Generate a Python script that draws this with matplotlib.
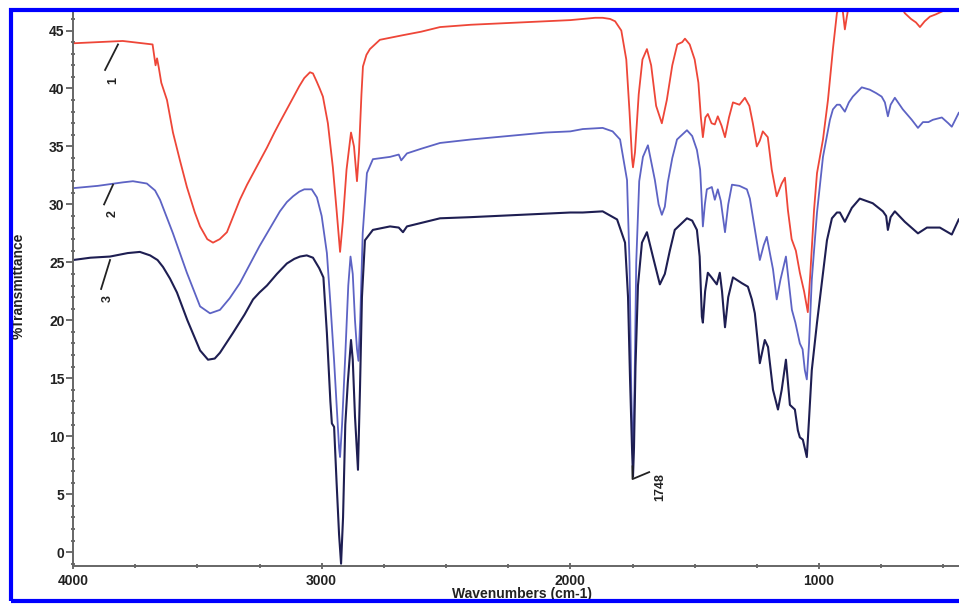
import matplotlib
matplotlib.use('Agg')
import matplotlib.pyplot as plt
from matplotlib.patches import Rectangle
from matplotlib.ticker import MultipleLocator

plt.rcParams['font.family'] = ['Liberation Sans', 'DejaVu Sans']

# spectrum 1 (red)
wn_1 = [4000, 3900, 3800, 3720, 3680, 3668, 3662, 3655, 3645, 3622, 3598, 3570, 3542,
        3510, 3489, 3460, 3437, 3410, 3381, 3355, 3329, 3300, 3275, 3250, 3220, 3190,
        3168, 3140, 3115, 3090, 3070, 3047, 3035, 3020, 3008, 2995, 2975, 2955, 2940,
        2926, 2915, 2900, 2882, 2870, 2858, 2850, 2840, 2834, 2820, 2806, 2766, 2720,
        2673, 2600, 2524, 2400, 2300, 2200, 2100, 2000, 1950, 1900, 1870, 1840, 1820,
        1795, 1775, 1762, 1752, 1748, 1740, 1725, 1710, 1692, 1675, 1655, 1632, 1612,
        1590, 1570, 1550, 1539, 1520, 1500, 1485, 1475, 1467, 1457, 1447, 1432, 1419,
        1407, 1392, 1378, 1362, 1346, 1320, 1298, 1280, 1266, 1250, 1238, 1226, 1206,
        1190, 1170, 1150, 1137, 1125, 1110, 1093, 1077, 1060, 1045, 1035, 1020, 1008,
        984, 964, 944, 928, 915, 905, 896, 888, 880, 850, 750, 680, 655, 630, 610, 594,
        575, 554, 530, 500, 450]
t_1 = [43.9, 44.0, 44.1, 43.9, 43.8, 42.0, 42.6, 41.8, 40.5, 39.0, 36.2, 33.8, 31.5,
       29.3, 28.1, 27.0, 26.7, 27.0, 27.6, 29.0, 30.4, 31.7, 32.7, 33.7, 34.9, 36.2,
       37.1, 38.2, 39.2, 40.2, 40.9, 41.4, 41.3, 40.6, 40.0, 39.3, 37.0, 33.2, 29.5,
       25.9, 28.5, 33.0, 36.2, 35.0, 32.0, 34.5, 39.5, 41.9, 42.9, 43.4, 44.2, 44.4,
       44.6, 44.9, 45.3, 45.5, 45.6, 45.7, 45.8, 45.9, 46.0, 46.1, 46.1, 46.0, 45.8,
       45.0, 42.5, 38.0, 34.0, 33.2, 34.5, 39.5, 42.5, 43.4, 42.0, 38.5, 37.0, 39.0,
       42.0, 43.8, 44.0, 44.3, 43.8, 42.5, 40.5, 37.5, 35.8, 37.5, 37.8, 37.0, 36.9,
       37.6, 36.8, 35.8, 37.5, 38.8, 38.6, 39.2, 38.5, 37.0, 35.0, 35.5, 36.3, 35.8,
       33.0, 30.7, 31.8, 32.3, 29.5, 27.0, 26.0, 24.1, 22.5, 20.7, 24.0, 29.5, 32.7,
       35.6, 39.0, 43.4, 46.5, 47.3, 46.8, 45.1, 46.2, 47.2, 47.8, 48.0, 47.5, 46.5,
       46.0, 45.7, 45.3, 45.8, 46.2, 46.4, 46.7, 47.0]

# spectrum 2 (blue)
wn_2 = [4000, 3900, 3800, 3759, 3703, 3670, 3650, 3598, 3542, 3489, 3449, 3409, 3370,
        3329, 3275, 3250, 3220, 3190, 3168, 3140, 3115, 3090, 3070, 3040, 3019, 3000,
        2979, 2965, 2950, 2938, 2930, 2926, 2918, 2905, 2893, 2884, 2875, 2866, 2858,
        2852, 2845, 2835, 2818, 2794, 2725, 2690, 2680, 2657, 2600, 2524, 2400, 2300,
        2200, 2100, 2000, 1950, 1870, 1830, 1800, 1772, 1762, 1755, 1748, 1742, 1735,
        1723, 1708, 1688, 1660, 1645, 1632, 1620, 1608, 1590, 1571, 1531, 1510, 1491,
        1478, 1472, 1467, 1459, 1451, 1431, 1419, 1407, 1395, 1378, 1365, 1350, 1320,
        1290, 1278, 1266, 1250, 1238, 1222, 1210, 1195, 1185, 1170, 1155, 1133, 1120,
        1109, 1095, 1077, 1066, 1057, 1049, 1040, 1029, 1008, 984, 956, 944, 928, 916,
        896, 880, 864, 828, 796, 770, 748, 735, 723, 712, 695, 663, 627, 602, 582, 560,
        542, 506, 480, 466, 438]
t_2 = [31.4, 31.6, 31.9, 32.0, 31.8, 31.2, 30.4, 27.5, 24.1, 21.2, 20.6, 20.9, 21.9,
       23.2, 25.4, 26.4, 27.5, 28.6, 29.4, 30.2, 30.7, 31.1, 31.3, 31.3, 30.6, 29.0,
       25.8, 21.5, 16.5, 12.0, 9.0, 8.2, 11.0, 17.0, 23.0, 25.5, 24.0, 20.0, 17.5,
       16.5, 20.0, 27.5, 32.7, 33.9, 34.1, 34.3, 33.8, 34.4, 34.8, 35.3, 35.6, 35.8,
       36.0, 36.2, 36.3, 36.5, 36.6, 36.3, 35.6, 32.1, 25.0, 14.0, 7.5, 14.0, 25.0,
       32.0, 34.1, 35.1, 32.1, 30.0, 29.1, 29.8, 31.9, 34.0, 35.6, 36.4, 35.9, 34.7,
       33.0, 30.5, 28.1, 30.0, 31.3, 31.5, 30.4, 31.3, 30.3, 27.6, 30.0, 31.7, 31.6,
       31.3, 30.5, 28.9, 26.8, 25.2, 26.5, 27.2, 25.5, 24.4, 21.8, 23.5, 25.5, 23.0,
       20.9, 19.8, 18.0, 17.5, 15.7, 14.9, 18.0, 23.5, 29.3, 34.1, 37.3, 38.2, 38.6,
       38.6, 38.0, 38.8, 39.3, 40.1, 39.9, 39.6, 39.3, 38.8, 37.6, 38.6, 39.2, 38.2,
       37.3, 36.6, 37.1, 37.1, 37.3, 37.5, 37.0, 36.7, 37.9]

# spectrum 3 (dark navy)
wn_3 = [4000, 3930, 3851, 3780, 3731, 3690, 3660, 3638, 3610, 3582, 3540, 3489, 3457,
        3430, 3409, 3357, 3310, 3276, 3250, 3220, 3180, 3140, 3110, 3087, 3060, 3035,
        3010, 2993, 2979, 2965, 2959, 2950, 2940, 2930, 2922, 2914, 2905, 2895, 2882,
        2875, 2866, 2854, 2846, 2838, 2826, 2794, 2725, 2690, 2673, 2657, 2600, 2524,
        2400, 2300, 2200, 2100, 2000, 1950, 1870, 1812, 1780, 1768, 1760, 1752, 1748,
        1744, 1738, 1728, 1712, 1692, 1668, 1640, 1620, 1600, 1580, 1531, 1510, 1491,
        1480, 1471, 1467, 1458, 1447, 1432, 1411, 1399, 1390, 1378, 1365, 1346, 1310,
        1286, 1270, 1258, 1248, 1238, 1218, 1205, 1185, 1165, 1150, 1133, 1117, 1097,
        1085, 1077, 1065, 1049, 1040, 1029, 1008, 968, 948, 928, 916, 896, 868, 836,
        784, 743, 730, 723, 712, 695, 655, 602, 566, 514, 466, 438]
t_3 = [25.2, 25.4, 25.5, 25.8, 25.9, 25.6, 25.2, 24.6, 23.6, 22.4, 20.0, 17.4, 16.6,
       16.7, 17.2, 18.9, 20.5, 21.8, 22.4, 23.0, 24.0, 24.9, 25.3, 25.5, 25.6, 25.4,
       24.5, 23.7, 18.9, 13.0, 11.1, 10.8, 6.0, 1.5, -1.0, 3.0, 11.0, 14.6, 18.3,
       16.6, 11.7, 7.1, 14.0, 22.0, 26.9, 27.8, 28.1, 28.0, 27.6, 28.1, 28.4, 28.8,
       28.9, 29.0, 29.1, 29.2, 29.3, 29.3, 29.4, 28.7, 26.7, 22.0, 15.0, 9.0, 6.5,
       9.0, 16.0, 23.0, 26.7, 27.6, 25.5, 23.1, 24.0, 26.0, 27.8, 28.8, 28.6, 27.8,
       25.5, 20.3, 19.8, 22.5, 24.1, 23.7, 23.1, 24.1, 22.5, 19.4, 22.0, 23.7, 23.2,
       22.9, 21.8, 20.6, 18.5, 16.3, 18.3, 17.7, 14.0, 12.3, 14.0, 16.6, 12.7, 12.3,
       10.5, 9.9, 9.7, 8.2, 11.5, 15.7, 19.8, 26.9, 28.8, 29.3, 29.3, 28.5, 29.7, 30.5,
       30.1, 29.4, 29.0, 27.8, 28.9, 29.4, 28.5, 27.5, 28.0, 28.0, 27.4, 28.7]

curve_labels = ['1', '2', '3']
label_lines = [[(3871, 41.6), (3819, 43.8)],
               [(3875, 30.0), (3839, 31.7)],
               [(3887, 22.7), (3851, 25.2)]]
label_pos = [(3839, 40.7), (3839, 29.2), (3859, 21.9)]
peak_label = '1748'

fig = plt.figure(figsize=(9.59, 6.04), dpi=100)
ax = fig.add_axes([73 / 959, 1 - 566 / 604, 1 - 73 / 959, (566 - 12) / 604])

ax.plot(wn_1, t_1, color='#ee4638', lw=1.3)
ax.plot(wn_2, t_2, color='#5d63c4', lw=1.3)
ax.plot(wn_3, t_3, color='#1e1e52', lw=1.5)

# curve labels
for lab, seg, pos in zip(curve_labels, label_lines, label_pos):
    ax.plot([seg[0][0], seg[1][0]], [seg[0][1], seg[1][1]], color='#222222', lw=1.3)
    ax.text(pos[0], pos[1], lab, rotation=90, ha='center', va='center',
            fontsize=9, fontweight='bold', color='#222222')

# 1748 marker
ax.plot([1750, 1750, 1683], [7.4, 6.3, 6.9], color='#222222', lw=1.3)
ax.text(1640, 5.6, peak_label, rotation=90, ha='center', va='center',
        fontsize=9, fontweight='bold', color='#222222')

ax.set_xlim(4000, 437)
ax.set_ylim(-1.2, 46.6)

ax.xaxis.set_major_locator(MultipleLocator(1000))
ax.xaxis.set_minor_locator(MultipleLocator(250))
ax.yaxis.set_major_locator(MultipleLocator(5))
ax.yaxis.set_minor_locator(MultipleLocator(1))

for s in ['top', 'right']:
    ax.spines[s].set_visible(False)
for s in ['left', 'bottom']:
    ax.spines[s].set_color('#666666')
    ax.spines[s].set_linewidth(1.4)

ax.tick_params(axis='y', which='major', direction='out', length=5, width=1.2,
               color='#555555', pad=1, labelsize=10)
ax.tick_params(axis='y', which='minor', direction='inout', length=3, width=1.2,
               color='#555555')
ax.tick_params(axis='x', which='major', direction='inout', length=4, width=1.2,
               color='#555555', pad=4, labelsize=10)
ax.tick_params(axis='x', which='minor', direction='inout', length=3, width=1.2,
               color='#555555')
for t in ax.get_xticklabels() + ax.get_yticklabels():
    t.set_fontweight('bold')
    t.set_color('#222222')

fig.text(19 / 959, 1 - 286 / 604, '%Transmittance', rotation=90, ha='center',
         va='center', fontsize=10, fontweight='bold', color='#222222')
fig.text(522 / 959, 1 - 587 / 604, 'Wavenumbers (cm-1)', ha='center', va='top',
         fontsize=10, fontweight='bold', color='#222222')

# blue frame around the figure
frame = Rectangle((11 / 959, 1 - 601 / 604), 1.2, (601 - 10) / 604,
                  transform=fig.transFigure, fill=False, edgecolor='#0000ff',
                  lw=3, zorder=10, clip_on=False)
fig.add_artist(frame)

fig.savefig('out.png', dpi=100)
